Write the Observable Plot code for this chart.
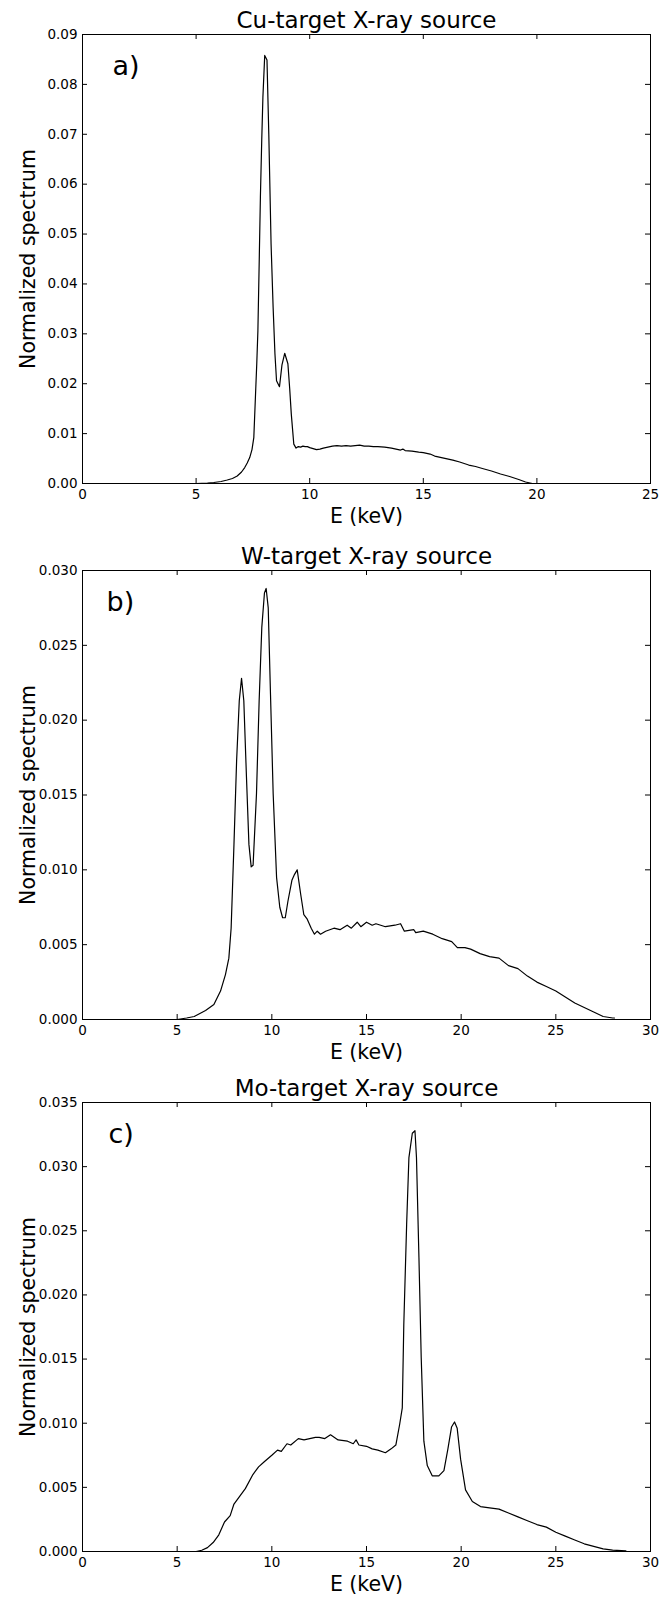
<!DOCTYPE html>
<html>
<head>
<meta charset="utf-8">
<script src="https://cdn.jsdelivr.net/npm/d3@7"></script>
<script src="https://cdn.jsdelivr.net/npm/@observablehq/plot@0.6"></script>
<style>
  html, body { margin: 0; padding: 0; background: white; }
  #charts svg { display: block; }
</style>
</head>
<body>
<div id="charts"></div>
<script>
// ---- Data: [E (keV), normalized spectrum] ----
const cuSpectrum = [
  [1,0],[2,0],[3,0],[4,0],[5,0],[5.5,0.0001],[5.78,0.0002],[6.1,0.0004],[6.37,0.0007],[6.6,0.001],
  [6.81,0.0015],[7.0,0.0023],[7.14,0.0032],[7.25,0.0041],[7.36,0.0052],[7.46,0.0068],[7.54,0.0092],
  [7.61,0.0172],[7.67,0.024],[7.72,0.0306],[7.78,0.045],[7.83,0.0574],[7.89,0.069],[7.94,0.0774],
  [8.02,0.0858],[8.12,0.0849],[8.2,0.07],[8.3,0.048],[8.39,0.0353],[8.47,0.026],[8.54,0.0206],
  [8.67,0.0194],[8.78,0.0238],[8.9,0.0261],[9.04,0.024],[9.12,0.019],[9.19,0.0139],[9.3,0.0079],
  [9.4,0.0071],[9.5,0.0074],[9.6,0.0073],[9.7,0.0075],[9.8,0.0074],[9.9,0.0074],[10.0,0.0072],
  [10.15,0.007],[10.3,0.0068],[10.45,0.0069],[10.6,0.0071],[10.8,0.0073],[11.0,0.0075],[11.2,0.0076],
  [11.4,0.0075],[11.6,0.0076],[11.8,0.0075],[12.0,0.0076],[12.2,0.0077],[12.4,0.0075],[12.6,0.0075],
  [12.8,0.0074],[13.0,0.0074],[13.3,0.0073],[13.6,0.0071],[13.8,0.0069],[14.0,0.0067],[14.1,0.0069],
  [14.2,0.0066],[14.5,0.0065],[14.8,0.0063],[15.0,0.0062],[15.3,0.0059],[15.5,0.0055],[15.8,0.0052],
  [16.0,0.005],[16.3,0.0047],[16.6,0.0043],[17.0,0.0037],[17.3,0.0034],[17.6,0.003],[18.0,0.0025],
  [18.4,0.0019],[18.8,0.0014],[19.2,0.0008],[19.5,0.0003],[19.8,0]
];
const wSpectrum = [
  [0,0],[5.0,0],[5.5,0.0001],[5.9,0.0002],[6.2,0.0004],[6.5,0.0006],[6.94,0.001],[7.29,0.0019],[7.55,0.003],[7.73,0.0041],
  [7.85,0.0061],[8.0,0.0117],[8.14,0.0173],[8.28,0.0213],[8.4,0.0228],[8.52,0.0213],[8.66,0.0162],
  [8.79,0.0117],[8.91,0.0102],[9.01,0.0103],[9.19,0.0151],[9.33,0.0213],[9.47,0.0262],[9.61,0.0285],
  [9.7,0.0288],[9.81,0.0275],[9.93,0.0217],[10.07,0.0151],[10.25,0.0095],[10.42,0.0075],[10.57,0.0068],
  [10.71,0.0068],[10.85,0.0079],[11.06,0.0093],[11.2,0.0097],[11.34,0.01],[11.52,0.0084],[11.69,0.007],
  [11.87,0.0067],[12.08,0.0061],[12.25,0.0057],[12.4,0.0059],[12.57,0.0057],[12.84,0.0059],[13.28,0.0061],
  [13.6,0.006],[13.98,0.0063],[14.2,0.0061],[14.51,0.0065],[14.7,0.0062],[15.0,0.0065],[15.3,0.0063],
  [15.5,0.0064],[16.0,0.0062],[16.5,0.0063],[16.8,0.0064],[17.0,0.0059],[17.5,0.006],[17.6,0.0058],
  [18.0,0.0059],[18.5,0.0057],[19.0,0.0054],[19.5,0.0052],[19.8,0.0048],[20.2,0.0048],[20.5,0.0047],[21.0,0.0044],
  [21.5,0.0042],[22.0,0.0041],[22.5,0.0036],[23.0,0.0034],[23.5,0.0029],[24.0,0.0025],[24.5,0.0022],
  [25.0,0.0019],[25.5,0.0015],[26.0,0.0011],[26.5,0.0008],[27.0,0.0005],[27.5,0.0002],[28.0,0.0001],[28.1,0.0001]
];
const moSpectrum = [
  [0,0],[6.0,0],[6.3,0.0001],[6.6,0.0003],[6.9,0.0007],[7.2,0.0013],[7.5,0.0023],[7.8,0.0028],[8.0,0.0037],
  [8.3,0.0043],[8.6,0.0049],[9.0,0.006],[9.3,0.0066],[9.6,0.007],[10.0,0.0075],[10.3,0.0079],[10.5,0.0078],
  [10.8,0.0084],[11.0,0.0083],[11.4,0.0088],[11.7,0.0087],[12.0,0.0088],[12.3,0.0089],[12.5,0.0089],
  [12.8,0.0088],[13.1,0.0091],[13.5,0.0087],[14.0,0.0086],[14.3,0.0084],[14.45,0.0087],[14.6,0.0083],
  [15.0,0.0082],[15.3,0.008],[15.6,0.0079],[16.0,0.0077],[16.3,0.008],[16.55,0.0083],[16.75,0.0099],
  [16.89,0.0112],[16.97,0.0177],[17.12,0.0255],[17.24,0.0307],[17.42,0.0326],[17.56,0.0328],[17.64,0.0307],
  [17.77,0.0229],[17.89,0.0151],[18.03,0.0086],[18.21,0.0067],[18.47,0.0059],[18.82,0.0059],[19.09,0.0063],
  [19.3,0.008],[19.49,0.0097],[19.65,0.0101],[19.79,0.0096],[19.97,0.0072],[20.23,0.0048],[20.59,0.0039],
  [21.02,0.0035],[21.5,0.0034],[22.0,0.0033],[22.5,0.003],[23.0,0.0027],[23.5,0.0024],[24.0,0.0021],[24.5,0.0019],
  [25.0,0.0015],[25.5,0.0012],[26.0,0.0009],[26.5,0.0006],[27.0,0.0004],[27.5,0.0002],[28.0,0.0001],[28.7,0.00005]
];

const titles = ["Cu-target X-ray source", "W-target X-ray source", "Mo-target X-ray source"];
const panelLabels = ["a)", "b)", "c)"];
const xLabel = "E (keV)";
const yLabel = "Normalized spectrum";

const cuXTicks = [0, 5, 10, 15, 20, 25];
const cuYTicks = [0, 0.01, 0.02, 0.03, 0.04, 0.05, 0.06, 0.07, 0.08, 0.09];
const wXTicks = [0, 5, 10, 15, 20, 25, 30];
const wYTicks = [0, 0.005, 0.010, 0.015, 0.020, 0.025, 0.030];
const moXTicks = [0, 5, 10, 15, 20, 25, 30];
const moYTicks = [0, 0.005, 0.010, 0.015, 0.020, 0.025, 0.030, 0.035];

// ---- Layout ----
const W = 664;
const FONT = "DejaVu Sans";
const frameH = 449;
const mL = 82, mR = 14;

function panel({data, title, label, xTicks, yTicks, yFmt, height, marginTop, labelDx}) {
  const marginBottom = height - marginTop - frameH;
  const fw = W - mL - mR;
  const tickLen = 5;
  return Plot.plot({
    width: W,
    height,
    marginLeft: mL,
    marginRight: mR,
    marginTop,
    marginBottom,
    style: {fontFamily: FONT, background: "white", color: "black"},
    x: {domain: [xTicks[0], xTicks[xTicks.length - 1]], label: null},
    y: {domain: [yTicks[0], yTicks[yTicks.length - 1]], label: null},
    marks: [
      Plot.frame({stroke: "black", strokeWidth: 1}),
      // inward ticks on all four sides
      Plot.tickX(xTicks, {x: d => d, insetTop: frameH - tickLen, stroke: "black"}),
      Plot.tickX(xTicks, {x: d => d, insetBottom: frameH - tickLen, stroke: "black"}),
      Plot.tickY(yTicks, {y: d => d, insetRight: fw - tickLen, stroke: "black"}),
      Plot.tickY(yTicks, {y: d => d, insetLeft: fw - tickLen, stroke: "black"}),
      Plot.axisX({ticks: xTicks, tickSize: 0, tickPadding: 6, fontSize: 13.5, label: null, tickFormat: d3.format("d")}),
      Plot.axisY({ticks: yTicks, tickSize: 0, tickPadding: 5, fontSize: 13.5, label: null, tickFormat: d3.format(yFmt)}),
      Plot.line(data, {x: d => d[0], y: d => d[1], stroke: "black", strokeWidth: 1.2}),
      Plot.text([title], {text: d => d, frameAnchor: "top", dy: -7, lineAnchor: "bottom", fontSize: 23}),
      Plot.text([label], {text: d => d, frameAnchor: "top-left", dx: labelDx, dy: 40, lineAnchor: "bottom", textAnchor: "start", fontSize: 27}),
      Plot.text([xLabel], {text: d => d, frameAnchor: "bottom", dy: 39, lineAnchor: "bottom", fontSize: 20.5}),
      Plot.text([yLabel], {text: d => d, frameAnchor: "left", dx: -54, rotate: -90, lineAnchor: "middle", textAnchor: "middle", fontSize: 20.5})
    ]
  });
}

const root = document.getElementById("charts");
root.appendChild(panel({data: cuSpectrum, title: titles[0], label: panelLabels[0], xTicks: cuXTicks, yTicks: cuYTicks, yFmt: ".2f", height: 535, marginTop: 34, labelDx: 30}));
root.appendChild(panel({data: wSpectrum, title: titles[1], label: panelLabels[1], xTicks: wXTicks, yTicks: wYTicks, yFmt: ".3f", height: 532, marginTop: 35, labelDx: 24}));
root.appendChild(panel({data: moSpectrum, title: titles[2], label: panelLabels[2], xTicks: moXTicks, yTicks: moYTicks, yFmt: ".3f", height: 532, marginTop: 35, labelDx: 26}));
</script>
</body>
</html>
